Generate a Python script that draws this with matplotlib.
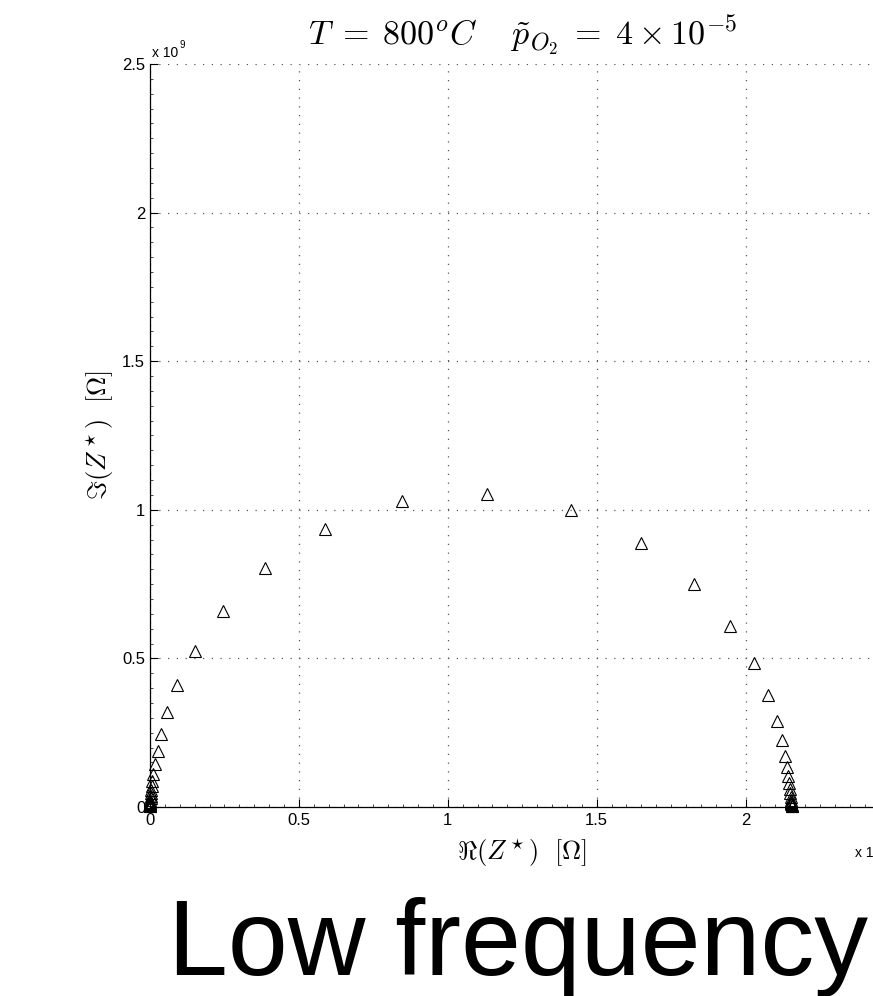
import matplotlib
matplotlib.use('Agg')
from matplotlib import pyplot as plt
from matplotlib.ticker import MultipleLocator

plt.rcParams['font.family'] = ['Liberation Sans', 'DejaVu Sans']
plt.rcParams['mathtext.fontset'] = 'cm'

# impedance, in units of 10^9 Ohm
re_z = [0.0001, 0.0002, 0.0003, 0.0005, 0.0007, 0.0010, 0.0013, 0.0017,
        0.0024, 0.0034, 0.0044, 0.0060, 0.0081, 0.0114, 0.0168, 0.0252,
        0.036, 0.056, 0.092, 0.151, 0.244, 0.385, 0.588, 0.845,
        1.133, 1.413, 1.650, 1.827, 1.949, 2.028, 2.076, 2.105,
        2.123, 2.133, 2.139, 2.143, 2.146, 2.149, 2.150, 2.152,
        2.153, 2.153, 2.154, 2.154, 2.155, 2.155, 2.155]
im_z = [0.002, 0.004, 0.007, 0.010, 0.013, 0.018, 0.024, 0.030,
        0.037, 0.047, 0.057, 0.071, 0.087, 0.111, 0.145, 0.188,
        0.245, 0.319, 0.410, 0.524, 0.660, 0.804, 0.937, 1.031,
        1.054, 1.001, 0.888, 0.749, 0.608, 0.483, 0.376, 0.290,
        0.224, 0.171, 0.133, 0.104, 0.081, 0.062, 0.047, 0.035,
        0.025, 0.018, 0.013, 0.009, 0.006, 0.0034, 0.0017]
scale_exp = 9
x_ticks = [0, 0.5, 1, 1.5, 2, 2.5]
y_ticks = [0, 0.5, 1, 1.5, 2, 2.5]

W, H = 873, 996
fig = plt.figure(figsize=(W/100, H/100), dpi=100)
ax = fig.add_axes([150/W, (H-807)/H, 744.5/W, 743/H])

ax.plot(re_z, im_z, '^', mfc='none', mec='k', ms=9, mew=0.8, clip_on=False)

ax.set_xlim(0, 2.5)
ax.set_ylim(0, 2.5)
ax.set_xticks(x_ticks)
ax.set_yticks(y_ticks)
ax.set_xticklabels(['%g' % t for t in x_ticks])
ax.set_yticklabels(['%g' % t for t in y_ticks])
ax.xaxis.set_minor_locator(MultipleLocator(0.05))
ax.yaxis.set_minor_locator(MultipleLocator(0.05))
ax.tick_params(which='both', direction='in', labelsize=12, width=0.8)
ax.tick_params(which='major', length=6)
ax.tick_params(which='minor', length=2.5, width=0.5)
ax.tick_params(axis='x', pad=4.5)
ax.tick_params(axis='y', pad=3.5)

ax.grid(True, which='major', color='0.35', linestyle=(0, (1, 6)), linewidth=0.9)
ax.spines['top'].set_visible(False)
ax.spines['right'].set_visible(False)
for s in ['left', 'bottom']:
    ax.spines[s].set_linewidth(0.9)

ax.set_title(r'$T\;=\;800^oC\quad\;\tilde{p}_{O_2}\;=\;4\times10^{-5}$',
             fontsize=24.5, pad=13)
ax.set_xlabel(r'$\Re(Z^\star)\ \ [\Omega]$', fontsize=19, labelpad=6)
ax.set_ylabel(r'$\Im(Z^\star)\ \ [\Omega]$', fontsize=19, labelpad=4)

# MATLAB style exponent labels
fig.text(152/W, 1-57/H, 'x 10', fontsize=10, va='baseline')
fig.text(180/W, 1-48/H, str(scale_exp), fontsize=7, va='baseline')
fig.text(855/W, 1-857/H, 'x 10', fontsize=10, va='baseline')
fig.text(883/W, 1-848/H, str(scale_exp), fontsize=7, va='baseline')

fig.text(168/W, 1-975/H, 'Low frequency', fontsize=77.5, va='baseline')

plt.savefig('out.png', dpi=100)
